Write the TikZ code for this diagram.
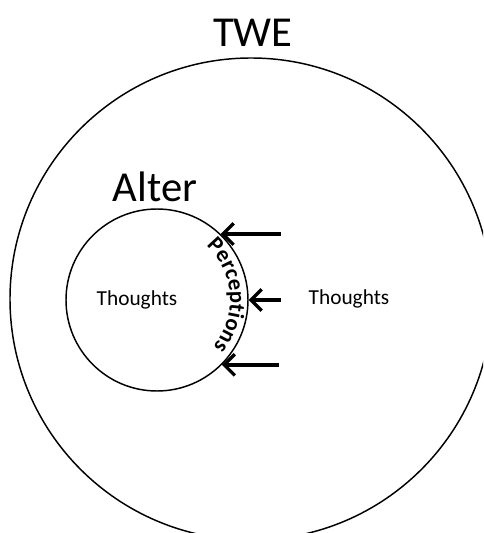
\documentclass[tikz,border=0pt]{standalone}
\usepackage{fontspec}
\setmainfont{Carlito}
\usetikzlibrary{arrows.meta,calc,decorations.text}

\begin{document}
\begin{tikzpicture}[x=0.75pt,y=0.75pt,
    ring/.style={circle,draw=black,line width=1.1pt,inner sep=0pt},
    bigtext/.style={font=\fontsize{32}{36}\selectfont,anchor=base},
    smalltext/.style={font=\fontsize{16}{19}\selectfont,anchor=base},
    inflow/.style={-{Straight Barb[length=8pt,width=16pt,line width=2.4pt]},line width=2.8pt}]

  \useasboundingbox (0,0) rectangle (483,533);
  \clip (0,0) rectangle (483,533);

  \node[ring,minimum size=482*0.75pt] (twe) at (251,234) {};
  \node[ring,minimum size=182*0.75pt] (alter) at (157,233) {};

  \node[bigtext] (tweLabel) at (253,486) {TWE};
  \node[bigtext] (alterLabel) at (155,331) {Alter};
  \node[smalltext] (inThoughts) at (137,227) {Thoughts};
  \node[smalltext] (outThoughts) at (349,228) {Thoughts};

  % perceptions written along the inside of the alter circle
  \path[decorate,decoration={text along path,text align=center,
        text={|\bfseries\fontsize{17}{20}\selectfont|Perceptions}}]
    ($(alter.center)+(64:73)$) arc[start angle=64,end angle=-56,radius=73];

  \coordinate (inTop) at ($(alter.46.5)+(60,0)$);
  \coordinate (inMid) at ($(alter.0)+(32,0)$);
  \coordinate (inLow) at ($(alter.-45)+(57,0)$);

  \draw[inflow] (inTop) -- (alter.46.5);
  \draw[inflow] (inMid) -- (alter.0);
  \draw[inflow] (inLow) -- (alter.-45);
\end{tikzpicture}
\end{document}
